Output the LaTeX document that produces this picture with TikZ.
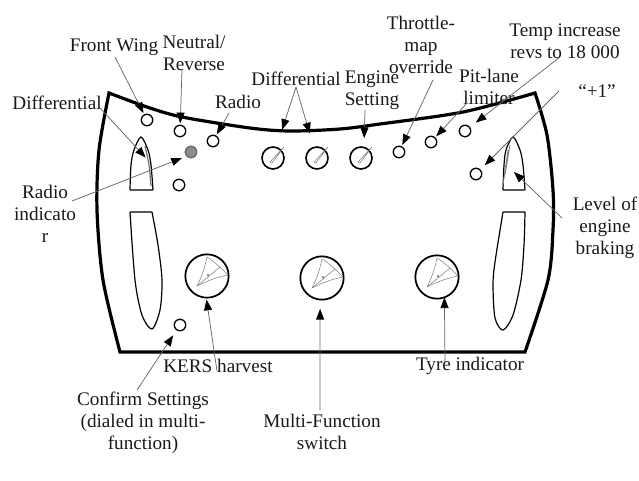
\documentclass[tikz,border=0pt]{standalone}
\usepackage{fontspec}
\setmainfont{Liberation Serif}
\usetikzlibrary{arrows.meta}
\tikzset{
  pointer/.style={draw=black!60, line width=0.55pt, -{Triangle[length=8pt,width=6pt,color=black]}, shorten >=1.5pt},
  lbl/.style={align=center, inner sep=0pt, text=black!90, font=\fontsize{14.4}{16.6}\selectfont},
  switch/.style={draw, circle, line width=1pt, minimum size=8.6pt, inner sep=0pt, outer sep=0pt},
  dial_mid/.style={draw, circle, line width=1.2pt, minimum size=16.5pt, inner sep=0pt, outer sep=0pt},
  dial_big/.style={draw, circle, line width=1.3pt, minimum size=32.5pt, inner sep=0pt, outer sep=0pt},
  needle/.style={draw=black!50, line width=0.4pt},
  needle_mid/.pic={
    \draw[needle] (-3,4) -- (11,-11) -- (-1,5) -- cycle;
  },
  needle_big/.pic={
    % fan of thin lines in the dial
    \draw[needle] (-10,10) .. controls (-4,-2) and (-2,-10) .. (0,-19);
    \draw[needle] (-10,10) .. controls (0,5) and (10,1) .. (21,-1);
    \draw[needle] (0,-19) .. controls (8,-14) and (14,-8) .. (21,-1);
    \draw[needle] (-10,10) -- (13,-9);
    \fill[black!70] (1,-1) circle (1);
  }
}
\begin{document}
\begin{tikzpicture}[x=0.75pt, y=-0.75pt]
  \useasboundingbox (0,0) rectangle (639,480);

  % outer panel
  \draw[line width=2.4pt, line join=miter]
    plot[smooth] coordinates {(109,93) (147,107) (182,117) (250,128) (290,131) (340,129) (380,124) (463,112) (535,93)}
    -- plot[smooth] coordinates {(535,93) (547,135) (553,190) (553,230) (548,280) (525,352)}
    -- (120,352)
    -- plot[smooth] coordinates {(120,352) (103,280) (97,210) (99,150) (109,93)} -- cycle;

  % upper side caps
  \draw[line width=0.9pt] (130,190) -- (153,190)
    plot[smooth] coordinates {(153,190) (151,165) (148,150) (141,137) (134,150) (131,165) (130,190)};
  \draw[line width=0.9pt] (503,190) -- (525,190)
    plot[smooth] coordinates {(525,190) (523,165) (520,150) (513,137) (506,150) (504,165) (503,190)};
  \draw[black!55, line width=0.9pt] plot[smooth] coordinates {(145,146) (149,165) (151,186)};
  \draw[needle, line width=0.6pt] (508,150) -- (503,185) (510,145) -- (505,175);

  % lower side lobes
  \draw[line width=0.9pt] (130,212) -- (152,212)
    plot[smooth] coordinates {(152,212) (158,245) (162,280) (160,310) (152,329) (142,315) (135,280) (130,212)};
  \draw[line width=0.9pt] (503,212) -- (525,212)
    plot[smooth] coordinates {(525,212) (524,245) (521,280) (513,315) (503,330) (495,318) (493,285) (495,262) (503,212)};

  % small switches
  \node[switch] (sw_wing) at (147,120) {};
  \node[switch] (sw_neutral) at (180,131) {};
  \node[switch] (sw_radio) at (213,141) {};
  \node[switch, fill=black!45, draw=black!60] (led_radio) at (191,152) {};
  \node[switch] (sw_extra) at (179,185) {};
  \node[switch] (sw_throttle) at (399,152) {};
  \node[switch] (sw_pit) at (431,142) {};
  \node[switch] (sw_temp) at (465,131) {};
  \node[switch] (sw_plus) at (476,174) {};
  \node[switch] (sw_confirm) at (180,325) {};

  % dials
  \node[dial_mid] (dial_a) at (273,158) {};
  \node[dial_mid] (dial_b) at (317,158) {};
  \node[dial_mid] (dial_c) at (361,158) {};
  \pic at (dial_a) {needle_mid};
  \pic at (dial_b) {needle_mid};
  \pic at (dial_c) {needle_mid};
  \node[dial_big] (dial_kers) at (207,276) {};
  \node[dial_big] (dial_multi) at (322,278) {};
  \node[dial_big] (dial_tyre) at (437,277) {};
  \pic at (dial_kers) {needle_big};
  \pic at (dial_multi) {needle_big};
  \pic at (dial_tyre) {needle_big};

  % labels
  \node[lbl] (lbl_wing) at (114,47) {Front Wing};
  \node[lbl] (lbl_neutral) at (194,53) {Neutral/\\Reverse};
  \node[lbl] (lbl_diff_l) at (57,103) {Differential};
  \node[lbl] (lbl_radio) at (238,102) {Radio};
  \node[lbl] (lbl_diff_m) at (296,79) {Differential};
  \node[lbl] (lbl_engine) at (372,90) {Engine\\Setting};
  \node[lbl] (lbl_throttle) at (421,45) {Throttle-\\map\\override};
  \node[lbl] (lbl_pit) at (489,87) {Pit-lane\\limiter};
  \node[lbl] (lbl_temp) at (565,41) {Temp increase\\revs to 18 000};
  \node[lbl] (lbl_plus) at (597,91) {“+1”};
  \node[lbl] (lbl_level) at (605,228) {Level of\\engine\\braking};
  \node[lbl] (lbl_indicator) at (45,214) {Radio\\indicato\\r};
  \node[lbl] (lbl_confirm) at (143,423) {Confirm Settings\\(dialed in multi-\\function)};
  \node[lbl] (lbl_kers) at (218,366) {KERS harvest};
  \node[lbl] (lbl_tyre) at (470,366) {Tyre indicator};
  \node[lbl] (lbl_multi) at (322,432) {Multi-Function\\switch};

  % free ends of the pointers
  \coordinate (from_wing) at (115,57);
  \coordinate (from_neutral) at (182,70);
  \coordinate (from_diff_l) at (100,108);
  \coordinate (to_diff_l) at (147,159);
  \coordinate (from_indicator) at (72,201);
  \coordinate (from_radio) at (229,113);
  \coordinate (from_diff_m) at (296,87);
  \coordinate (from_engine) at (365,110);
  \coordinate (from_throttle) at (433,80);
  \coordinate (from_pit) at (467,103);
  \coordinate (from_temp) at (560,57);
  \coordinate (from_plus) at (559,91);
  \coordinate (from_level) at (562,218);
  \coordinate (to_level) at (514,172);
  \coordinate (from_confirm) at (137,390);
  \coordinate (from_kers) at (217,371);
  \coordinate (from_tyre) at (445,363);
  \coordinate (from_multi) at (320,410);

  % pointers
  \draw[pointer] (from_wing) -- (sw_wing);
  \draw[pointer] (from_neutral) -- (sw_neutral);
  \draw[pointer] (from_radio) -- (sw_radio);
  \draw[pointer] (from_diff_l) -- (to_diff_l);
  \draw[pointer, shorten >=4pt] (from_indicator) -- (led_radio.south west);
  \draw[pointer, shorten >=14pt] (from_diff_m) -- (dial_a);
  \draw[pointer, shorten >=11pt] (from_diff_m) -- (dial_b);
  \draw[pointer, shorten >=7pt] (from_engine) -- (dial_c.75);
  \draw[pointer] (from_throttle) -- (sw_throttle);
  \draw[pointer] (from_pit) -- (sw_pit);
  \draw[pointer, shorten >=6pt] (from_temp) -- (sw_temp);
  \draw[pointer, shorten >=5pt] (from_plus) -- (sw_plus);
  \draw[pointer, shorten >=0pt] (from_level) -- (to_level);
  \draw[pointer, shorten >=5pt] (from_confirm) -- (sw_confirm);
  \draw[pointer] (from_kers) -- (dial_kers.-92);
  \draw[pointer, shorten >=7pt] (from_multi) -- (dial_multi.-95);
  \draw[pointer, shorten >=0pt] (from_tyre) -- (dial_tyre.-70);
\end{tikzpicture}
\end{document}
